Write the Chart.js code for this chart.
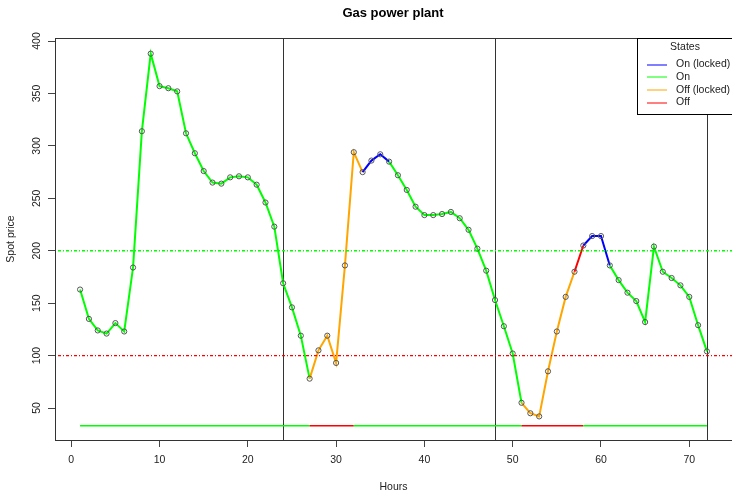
<!DOCTYPE html>
<html>
<head>
<meta charset="utf-8">
<title>Gas power plant</title>
<script src="https://cdn.jsdelivr.net/npm/chart.js@4.4.0/dist/chart.umd.min.js"></script>
<style>
  html, body { margin: 0; padding: 0; background: #fff; }
  #wrap { width: 732px; height: 492px; }
</style>
</head>
<body>
<div id="wrap"><canvas id="plantChart" width="732" height="492"></canvas></div>
<script>
// Data
const hours = [1, 2, 3, 4, 5, 6, 7, 8, 9, 10, 11, 12, 13, 14, 15, 16, 17, 18, 19, 20, 21, 22, 23, 24,
    25, 26, 27, 28, 29, 30, 31, 32, 33, 34, 35, 36, 37, 38, 39, 40, 41, 42, 43, 44, 45, 46, 47, 48,
    49, 50, 51, 52, 53, 54, 55, 56, 57, 58, 59, 60, 61, 62, 63, 64, 65, 66, 67, 68, 69, 70, 71, 72];

const spotPrice = [163, 135, 124, 121, 131, 123, 184, 314, 388, 357, 355, 352, 312, 293, 276, 265, 264, 270, 271, 270, 263, 246, 223, 169,
    146, 119, 78, 105, 119, 93, 186, 294, 275, 286, 292, 285, 272, 258, 242, 234, 234, 235, 237, 231, 220, 202, 181, 153,
    128, 102, 55, 45, 42, 85, 123, 156, 180, 205, 214, 214, 186, 172, 160, 152, 132, 204, 180, 174, 167, 156, 129, 104];

// state of the plant for the segment starting at each hour
// N = On, B = On (locked), O = Off (locked), R = Off
const hourState = ['N', 'N', 'N', 'N', 'N', 'N', 'N', 'N', 'N', 'N', 'N', 'N', 'N', 'N', 'N', 'N', 'N', 'N', 'N', 'N', 'N', 'N', 'N', 'N',
    'N', 'N', 'O', 'O', 'O', 'O', 'O', 'O', 'B', 'B', 'B', 'N', 'N', 'N', 'N', 'N', 'N', 'N', 'N', 'N', 'N', 'N', 'N', 'N',
    'N', 'N', 'O', 'O', 'O', 'O', 'O', 'O', 'R', 'B', 'B', 'B', 'N', 'N', 'N', 'N', 'N', 'N', 'N', 'N', 'N', 'N', 'N', 'N'];

// running flag shown on the bottom line (1 = on, 0 = off)
const plantOn = [1, 1, 1, 1, 1, 1, 1, 1, 1, 1, 1, 1, 1, 1, 1, 1, 1, 1, 1, 1, 1, 1, 1, 1,
    1, 1, 0, 0, 0, 0, 0, 1, 1, 1, 1, 1, 1, 1, 1, 1, 1, 1, 1, 1, 1, 1, 1, 1,
    1, 1, 0, 0, 0, 0, 0, 0, 0, 1, 1, 1, 1, 1, 1, 1, 1, 1, 1, 1, 1, 1, 1, 1];
const statusLevel = 33;

const startPrice = 200;   // green dotted line
const stopPrice = 100;    // red dotted line
const dayBreaks = [24, 48, 72];

const xTicks = [0, 10, 20, 30, 40, 50, 60, 70];
const yTicks = [50, 100, 150, 200, 250, 300, 350, 400];

const legendLabels = ['On (locked)', 'On', 'Off (locked)', 'Off'];
const legendCodes = ['B', 'N', 'O', 'R'];

const stateColors = { N: '#00ff00', B: '#0000ff', O: '#ffa500', R: '#ff0000' };
const FONT = '"Liberation Sans", Arial, sans-serif';
const FS = 10.5;
const X_MIN = -1.84, X_MAX = 74.84;

// title, vertical day lines, plot box and the legend
const framePlugin = {
    id: 'frame',
    beforeDatasetsDraw(chart) {
        const { ctx, chartArea, scales } = chart;
        ctx.save();
        ctx.strokeStyle = '#333';
        ctx.lineWidth = 1;
        dayBreaks.forEach(h => {
            const x = Math.round(scales.x.getPixelForValue(h)) + 0.5;
            ctx.beginPath();
            ctx.moveTo(x, chartArea.top);
            ctx.lineTo(x, chartArea.bottom);
            ctx.stroke();
        });
        ctx.fillStyle = '#000';
        ctx.font = 'bold 13px ' + FONT;
        ctx.textAlign = 'center';
        ctx.textBaseline = 'middle';
        ctx.fillText('Gas power plant', 393, 13);
        ctx.restore();
    },
    afterDatasetsDraw(chart) {
        const { ctx, chartArea } = chart;
        ctx.save();
        ctx.strokeStyle = '#333';
        ctx.lineWidth = 1;
        ctx.strokeRect(chartArea.left + 0.5, chartArea.top + 0.5,
            chartArea.right - chartArea.left + 4, chartArea.bottom - chartArea.top);

        // legend box
        const lx = 637, ly = chartArea.top;
        ctx.fillStyle = '#fff';
        ctx.fillRect(lx, ly, 110, 77);
        ctx.strokeStyle = '#000';
        ctx.strokeRect(lx + 0.5, ly + 0.5, 110, 76);

        ctx.fillStyle = '#222';
        ctx.font = FS + 'px ' + FONT;
        ctx.textBaseline = 'middle';
        ctx.textAlign = 'center';
        ctx.fillText('States', 685, ly + 9.5);
        ctx.textAlign = 'left';
        legendLabels.forEach((label, i) => {
            const y = ly + 26.5 + i * 12.7;
            ctx.strokeStyle = stateColors[legendCodes[i]];
            ctx.beginPath();
            ctx.moveTo(647, Math.round(y));
            ctx.lineTo(667, Math.round(y));
            ctx.stroke();
            ctx.fillStyle = '#222';
            ctx.fillText(label, 676, y);
        });
        ctx.restore();
    }
};

const ctx = document.getElementById('plantChart').getContext('2d');
new Chart(ctx, {
    type: 'line',
    data: {
        datasets: [
            {
                label: 'start',
                data: [{ x: X_MIN, y: startPrice }, { x: X_MAX, y: startPrice }],
                borderColor: '#00ff00',
                borderWidth: 1.4,
                borderDash: [1, 2, 3, 2],
                pointRadius: 0
            },
            {
                label: 'stop',
                data: [{ x: X_MIN, y: stopPrice }, { x: X_MAX, y: stopPrice }],
                borderColor: '#ff0000',
                borderWidth: 1.4,
                borderDash: [1, 2, 3, 2],
                pointRadius: 0
            },
            {
                label: 'status',
                data: hours.map(h => ({ x: h, y: statusLevel })),
                borderWidth: 1.5,
                pointRadius: 0,
                segment: {
                    borderColor: c => plantOn[c.p0DataIndex] ? '#00ff00' : '#ff0000'
                }
            },
            {
                label: 'Spot price',
                data: hours.map((h, i) => ({ x: h, y: spotPrice[i] })),
                borderWidth: 2,
                tension: 0,
                pointRadius: 2.6,
                pointBorderWidth: 1,
                pointBorderColor: '#555',
                pointBackgroundColor: 'rgba(0,0,0,0)',
                segment: {
                    borderColor: c => stateColors[hourState[c.p0DataIndex]]
                }
            }
        ]
    },
    options: {
        responsive: false,
        animation: false,
        devicePixelRatio: 1,
        layout: { autoPadding: false, padding: { top: 38, left: 0, right: -2, bottom: 0 } },
        plugins: {
            legend: { display: false },
            tooltip: { enabled: false },
            title: { display: false }
        },
        scales: {
            x: {
                type: 'linear',
                min: X_MIN,
                max: X_MAX,
                afterBuildTicks: s => { s.ticks = xTicks.map(v => ({ value: v })); },
                afterFit: s => { s.height = 52; s.paddingLeft = 0; s.paddingRight = 0; },
                ticks: { color: '#222', font: { family: FONT, size: FS }, padding: 7, maxRotation: 0 },
                grid: { drawOnChartArea: false, drawTicks: true, tickLength: 7, color: '#444' },
                border: { display: false },
                title: {
                    display: true, text: 'Hours', color: '#222',
                    font: { family: FONT, size: FS, lineHeight: 1 }, padding: 0
                }
            },
            y: {
                min: 19.5,
                max: 402.9,
                afterBuildTicks: s => { s.ticks = yTicks.map(v => ({ value: v })); },
                afterFit: s => { s.width = 55; s.paddingTop = 0; s.paddingBottom = 0; },
                ticks: {
                    color: '#222', font: { family: FONT, size: FS },
                    minRotation: 90, maxRotation: 90, crossAlign: 'center', padding: 2
                },
                grid: { drawOnChartArea: false, drawTicks: true, tickLength: 7, color: '#444' },
                border: { display: false },
                title: {
                    display: true, text: 'Spot price', color: '#222',
                    font: { family: FONT, size: FS, lineHeight: 1 }, padding: { top: 6, bottom: 0 }
                }
            }
        }
    },
    plugins: [framePlugin]
});
</script>
</body>
</html>
